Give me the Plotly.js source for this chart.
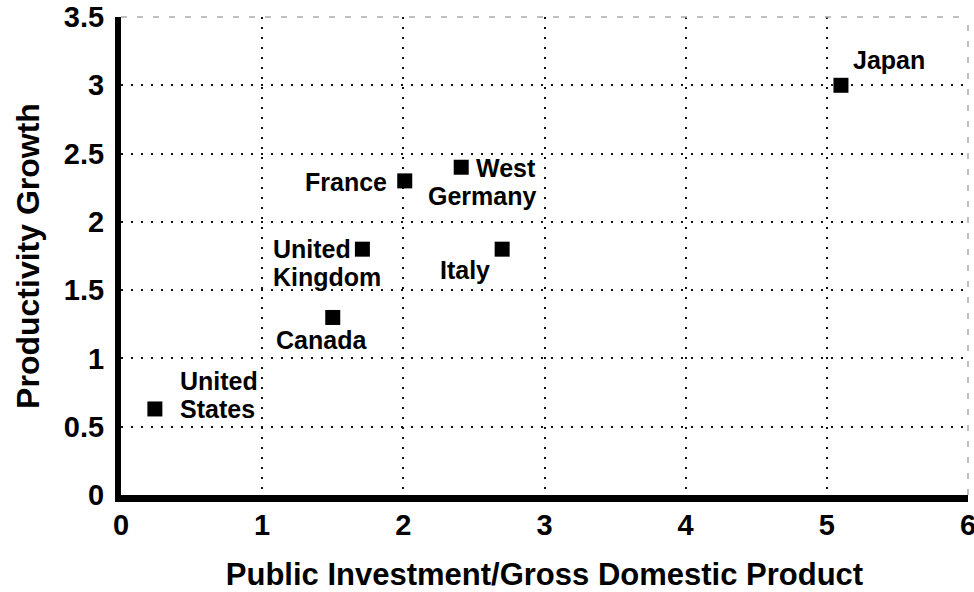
<!DOCTYPE html>
<html>
<head>
<meta charset="utf-8">
<script src="https://cdn.plot.ly/plotly-3.0.1.min.js"></script>
<style>
  html, body { margin: 0; padding: 0; background: #fff; }
  #chart { width: 974px; height: 592px; }
</style>
</head>
<body>
<div id="chart"></div>
<script>
// ---- data ----
const countries = ["United States", "Canada", "United Kingdom", "France", "West Germany", "Italy", "Japan"];
const labels = ["United<br>States", "Canada", "United<br>Kingdom", "France", "West<br>Germany", "Italy", "Japan"];
const publicInvestment = [0.24, 1.50, 1.71, 2.01, 2.41, 2.70, 5.10];
const productivityGrowth = [0.63, 1.30, 1.80, 2.30, 2.40, 1.80, 3.00];
const xTickVals = [0, 1, 2, 3, 4, 5, 6];
const yTickVals = [0, 0.5, 1, 1.5, 2, 2.5, 3, 3.5];
const yTickText = ["0", "0.5", "1", "1.5", "2", "2.5", "3", "3.5"];

// ---- label placement (pixel offsets from each marker) ----
const placement = {
  "United States":  {anchor: "left",   dx: 23,  dy: 28},
  "Canada":         {anchor: "center", dx: -11, dy: -23},
  "United Kingdom": {anchor: "left",   dx: -91, dy: 0},
  "France":         {anchor: "right",  dx: -16, dy: -1},
  "West Germany":   {anchor: "right",  dx: 77,  dy: -1},
  "Italy":          {anchor: "right",  dx: -10, dy: -21},
  "Japan":          {anchor: "left",   dx: 10,  dy: 25}
};
const lineGap = 28;
const FONT = "Liberation Sans, Arial, Helvetica, sans-serif";

const annotations = [];
countries.forEach((c, i) => {
  const p = placement[c];
  labels[i].split("<br>").forEach((line, k) => {
    annotations.push({
      x: publicInvestment[i], y: productivityGrowth[i],
      xref: "x", yref: "y",
      text: "<b>" + line + "</b>",
      showarrow: false,
      xanchor: p.anchor, yanchor: "middle",
      xshift: p.dx, yshift: p.dy - k * lineGap,
      font: {family: FONT, size: 25, color: "#000"}
    });
  });
});

const trace = {
  type: "scatter",
  mode: "markers",
  x: publicInvestment,
  y: productivityGrowth,
  text: countries,
  hoverinfo: "text+x+y",
  marker: {symbol: "square", size: 15, color: "#000"}
};

const layout = {
  width: 974, height: 592,
  margin: {l: 121, r: 6, t: 17, b: 97, pad: 0},
  paper_bgcolor: "#fff", plot_bgcolor: "#fff",
  showlegend: false,
  font: {family: FONT, color: "#000"},
  xaxis: {
    range: [0, 6], tickvals: xTickVals, ticktext: xTickVals.map(String),
    showline: true, linecolor: "#000", linewidth: 7,
    showgrid: true, gridcolor: "#111", gridwidth: 2, griddash: "2px,8px",
    zeroline: false, ticks: "",
    tickfont: {family: FONT, size: 29, color: "#000", weight: "bold"},
    ticklabelstandoff: -2, ticklabeloverflow: "allow",
    title: {text: "<b>Public Investment/Gross Domestic Product</b>", font: {family: FONT, size: 31, color: "#000"}, standoff: 28}
  },
  yaxis: {
    range: [0, 3.5], tickvals: yTickVals, ticktext: yTickText,
    showline: true, linecolor: "#000", linewidth: 6,
    showgrid: true, gridcolor: "#111", gridwidth: 2, griddash: "2px,8px",
    zeroline: false, ticks: "",
    tickfont: {family: FONT, size: 29, color: "#000", weight: "bold"},
    ticklabelstandoff: 5, ticklabeloverflow: "allow",
    title: {text: "<b>Productivity Growth</b>", font: {family: FONT, size: 32, color: "#000"}, standoff: 17}
  },
  shapes: [
    {type: "line", xref: "paper", yref: "paper", x0: 0, x1: 1, y0: 1, y1: 1,
     line: {color: "#aaa", width: 1.5, dash: "6px,10px"}},
    {type: "line", xref: "paper", yref: "paper", x0: 1, x1: 1, y0: 0, y1: 1,
     line: {color: "#aaa", width: 1.5, dash: "6px,10px"}}
  ],
  annotations: annotations
};

Plotly.newPlot("chart", [trace], layout, {displayModeBar: false, staticPlot: true});
</script>
</body>
</html>
